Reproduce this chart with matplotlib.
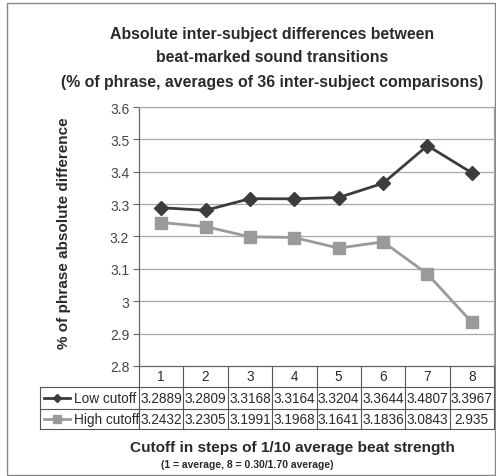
import numpy as np
import matplotlib.pyplot as plt
from matplotlib.lines import Line2D
from matplotlib.patches import Rectangle

plt.rcParams['font.family'] = ['Liberation Sans', 'DejaVu Sans']

# data
categories = [1, 2, 3, 4, 5, 6, 7, 8]
low_cutoff = [3.2889, 3.2809, 3.3168, 3.3164, 3.3204, 3.3644, 3.4807, 3.3967]
high_cutoff = [3.2432, 3.2305, 3.1991, 3.1968, 3.1641, 3.1836, 3.0843, 2.935]
series_names = ["Low cutoff", "High cutoff"]
y_ticks = [2.8, 2.9, 3.0, 3.1, 3.2, 3.3, 3.4, 3.5, 3.6]
y_tick_labels = ["2.8", "2.9", "3", "3.1", "3.2", "3.3", "3.4", "3.5", "3.6"]

W, H = 496, 477
fig = plt.figure(figsize=(W / 100, H / 100), dpi=100)


def fx(px):
    return px / W


def fy(py):
    return 1 - py / H


# plot area in pixels
left, right, top, bottom = 139, 494, 108, 367
ax = fig.add_axes([fx(left), fy(bottom), fx(right) - fx(left), fy(top) - fy(bottom)])

dark = "#3c3c3c"
light = "#9a9a9a"
grid_c = "#a8a8a8"
text_c = "#2a2a2a"

x = np.array(categories)
ax.plot(x, low_cutoff, color=dark, lw=2, marker="D", ms=7, mfc=dark, mec=dark, zorder=3)
ax.plot(x, high_cutoff, color=light, lw=2, marker="s", ms=8.5, mfc=light, mec=light, zorder=3)

ax.set_xlim(0.5, 8.5)
ax.set_ylim(2.8, 3.6)
ax.set_yticks(y_ticks)
ax.set_yticklabels(y_tick_labels, fontsize=10, color="#444444")
ax.set_xticks([])
ax.tick_params(axis="y", length=4, color="#666666", width=0.8, pad=3)
for yv in y_ticks[1:]:
    ax.axhline(yv, color=grid_c, lw=0.9, zorder=1)
for s in ["top", "right"]:
    ax.spines[s].set_color(grid_c)
    ax.spines[s].set_linewidth(0.9)
for s in ["left", "bottom"]:
    ax.spines[s].set_color("#666666")
    ax.spines[s].set_linewidth(0.9)

ax.set_ylabel("% of phrase absolute difference", fontsize=11, fontweight="bold",
              color=text_c)
ax.yaxis.set_label_coords((71 - left) / (right - left), (bottom - 233) / (bottom - top))

# data table below the plot
trans = ax.get_xaxis_transform()
h = bottom - top


def ay(py):
    return (bottom - py) / h


row_y = [367, 388, 410, 430]
lc = "#555555"
tbl_left = 40
col_w = (right - left) / 8
x_left_data = 0.5 + (tbl_left - left) / col_w

# horizontal lines
for py in row_y[1:]:
    ax.add_line(Line2D([x_left_data, 8.5], [ay(py), ay(py)], transform=trans,
                       color=lc, lw=0.8, clip_on=False))
# vertical lines
for b in np.arange(0.5, 9.0, 1.0):
    ax.add_line(Line2D([b, b], [ay(row_y[0]), ay(row_y[3])], transform=trans,
                       color=lc, lw=0.8, clip_on=False))
ax.add_line(Line2D([x_left_data, x_left_data], [ay(row_y[1]), ay(row_y[3])], transform=trans,
                   color=lc, lw=0.8, clip_on=False))

# column headers
for c in categories:
    ax.text(c, ay((row_y[0] + row_y[1]) / 2), str(c), transform=trans, ha="center",
            va="center", fontsize=9.8, color=text_c)

# rows
rows = [(low_cutoff, dark, "D", 4.5), (high_cutoff, light, "s", 5.5)]
for i, (vals, col, mk, ms) in enumerate(rows):
    yc = ay((row_y[i + 1] + row_y[i + 2]) / 2)
    for c, v in zip(categories, vals):
        ax.text(c, yc, str(v), transform=trans, ha="center", va="center",
                fontsize=9.8, color=text_c)
    x0 = x_left_data + 4 / col_w
    x1 = x_left_data + 30 / col_w
    ax.add_line(Line2D([x0, x1], [yc, yc], transform=trans, color=col, lw=2,
                       clip_on=False))
    ax.add_line(Line2D([(x0 + x1) / 2], [yc], transform=trans, marker=mk, ms=ms,
                       color=col, lw=0, clip_on=False))
    ax.text(x_left_data + 34 / col_w, yc, series_names[i], transform=trans,
            ha="left", va="center", fontsize=9.8, color=text_c)

# titles
title_lines = ["Absolute inter-subject differences between",
               "beat-marked sound transitions",
               "(% of phrase, averages of 36 inter-subject comparisons)"]
for ty, t in zip([35, 58, 82], title_lines):
    fig.text(fx(272), fy(ty), t, ha="center", va="center", fontsize=11.4,
             fontweight="bold", color=text_c)

fig.text(fx(292), fy(448), "Cutoff in steps of 1/10 average beat strength",
         ha="center", va="center", fontsize=11.1, fontweight="bold", color=text_c)
fig.text(fx(247), fy(465), "(1 = average, 8 = 0.30/1.70 average)",
         ha="center", va="center", fontsize=7.5, fontweight="bold", color=text_c)

# outer chart frame
fig.add_artist(Rectangle((fx(7), fy(476)), fx(495) - fx(7), fy(4) - fy(476),
                         transform=fig.transFigure, fill=False, ec="#888888", lw=1))

fig.savefig("out.png", dpi=100)
